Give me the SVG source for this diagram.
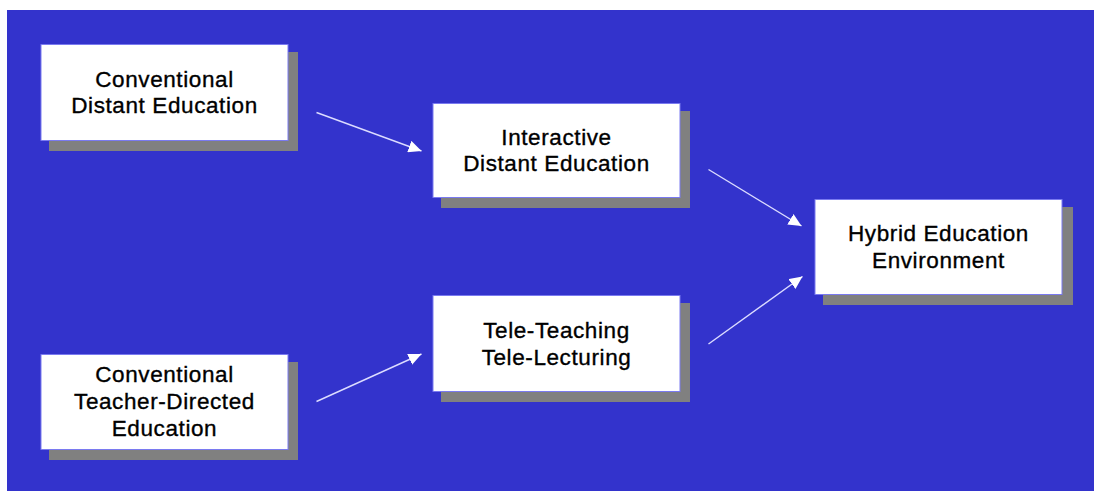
<svg xmlns="http://www.w3.org/2000/svg" width="1094" height="491" viewBox="0 0 1094 491">
  <style>
    .shadow { fill: #808080; }
    .box { fill: #ffffff; stroke: #7a7af0; stroke-width: 1; }
    .label { font-family: "Liberation Sans", Arial, sans-serif; font-size: 22.5px; letter-spacing: 0.6px; fill: #000000; stroke: #000000; stroke-width: 0.35; text-anchor: middle; }
    .link { stroke: #dcdcff; stroke-width: 1.4; fill: none; marker-end: url(#head); }
  </style>
  <defs>
    <marker id="head" markerUnits="userSpaceOnUse" markerWidth="14" markerHeight="12" refX="13" refY="6" orient="auto">
      <path d="M0,0 L13,6 L0,12 Z" fill="#ffffff"/>
    </marker>
  </defs>

  <!-- page background -->
  <rect x="0" y="0" width="1094" height="491" fill="#ffffff"/>
  <rect x="7" y="10" width="1087" height="481" fill="#3333cc"/>

  <!-- connectors -->
  <g id="connectors">
    <line class="link" x1="316.5" y1="112.5" x2="421.5" y2="151"/>
    <line class="link" x1="708.5" y1="169.5" x2="801.5" y2="226"/>
    <line class="link" x1="708.5" y1="344" x2="802.5" y2="276.5"/>
    <line class="link" x1="316.5" y1="401.5" x2="421.5" y2="354"/>
  </g>

  <g id="conventional-distant">
    <rect class="shadow" x="49" y="52" width="249" height="99"/>
    <rect class="box" x="41" y="44.5" width="247" height="96"/>
    <text class="label" x="164.5" y="87">Conventional</text>
    <text class="label" x="164.5" y="113">Distant Education</text>
  </g>

  <g id="interactive-distant">
    <rect class="shadow" x="441" y="111" width="249" height="97"/>
    <rect class="box" x="433" y="103.5" width="247" height="94"/>
    <text class="label" x="556.5" y="144.5">Interactive</text>
    <text class="label" x="556.5" y="171">Distant Education</text>
  </g>

  <g id="hybrid">
    <rect class="shadow" x="823" y="207" width="250" height="98"/>
    <rect class="box" x="815" y="199.5" width="247" height="95"/>
    <text class="label" x="938.5" y="241">Hybrid Education</text>
    <text class="label" x="938.5" y="268">Environment</text>
  </g>

  <g id="tele-teaching">
    <rect class="shadow" x="441" y="303" width="249" height="99"/>
    <rect class="box" x="433" y="295.5" width="247" height="96"/>
    <text class="label" x="556.5" y="338">Tele-Teaching</text>
    <text class="label" x="556.5" y="365">Tele-Lecturing</text>
  </g>

  <g id="conventional-teacher">
    <rect class="shadow" x="49" y="362" width="249" height="98"/>
    <rect class="box" x="41" y="354.5" width="247" height="95"/>
    <text class="label" x="164.5" y="382">Conventional</text>
    <text class="label" x="164.5" y="408.5">Teacher-Directed</text>
    <text class="label" x="164.5" y="436">Education</text>
  </g>
</svg>
